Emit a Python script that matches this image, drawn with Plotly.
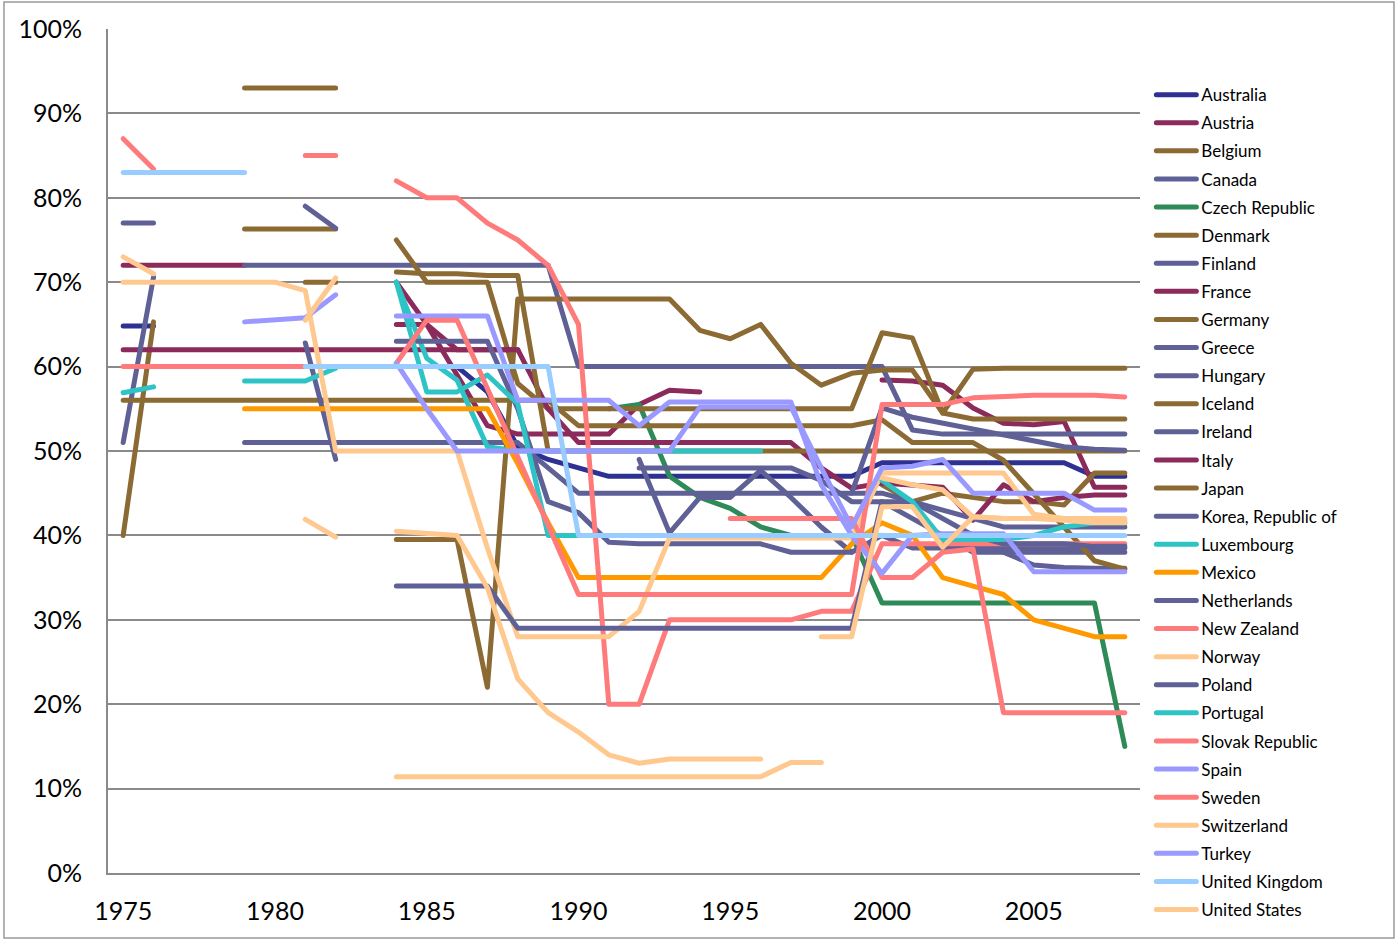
import plotly.graph_objects as go

N = None
years = list(range(1975, 2009))

# values per country, 1975..2008 (34 values, None = no data)
australia = [64.8, 64.8, N, N, N, N, N, N, N, 60, 60, 60, 57, 50.5, 49, 48, 47, 47, 47, 47, 47, 47, 47, 47, 47, 48.6, 48.6, 48.6, 48.6, 48.6, 48.6, 48.6, 47, 47]
austria = [72, 72, 72, 72, 72, N, N, N, N, 70, 65, 59, 53, 52, 52, 52, 52, 55.5, 57.2, 57, N, N, N, N, N, 58.4, 58.3, 57.8, 55.1, 53.3, 53.1, 53.5, 45.7, 45.7]
belgium = [40, 65.3, N, N, 93, 93, 93, 93, N, N, N, N, N, N, N, N, N, N, N, N, N, N, N, N, N, 46, 44, 45, 44.5, 44, 44, 43.6, 47.4, 47.4]
canada = [N, N, N, N, 72, 72, 72, 72, 72, 72, 72, 72, 72, 72, 72, 60, 60, 60, 60, 60, 60, 60, 60, 60, 60, 60, 52.5, 52, 52, 52, 52, 52, 52, 52]
czech = [N, N, N, N, N, N, N, N, N, N, N, N, N, N, N, N, 55, 55.5, 47, 44.5, 43.2, 41, 40, 40, 40, 32, 32, 32, 32, 32, 32, 32, 32, 15]
denmark = [N, N, N, N, 76.3, 76.3, 76.3, 76.3, N, 75, 70, 70, 70, 58, 55, 55, 55, 55, 55, 55, 55, 55, 55, 55, 55, 64, 63.4, 54.5, 53.8, 53.8, 53.8, 53.8, 53.8, 53.8]
finland = [77, 77, N, N, N, N, 79, 76.4, N, N, N, N, N, N, N, N, N, 49, 40.3, 44.5, 44.5, 47.7, 44.5, 41, 38, 40, 40, 40, 38, 38, 38, 38, 38, 38]
france = [62, 62, 62, 62, 62, 62, 62, 62, 62, 62, 62, 62, 62, 62, 55, 51, 51, 51, 51, 51, 51, 51, 51, 48, 45.6, 46.2, 46, 45.7, 41.8, 46, 44, 44.5, 44.8, 44.8]
germany = [N, N, N, N, N, N, N, N, N, 39.5, 39.5, 39.5, 22, 68, 68, 68, 68, 68, 68, 64.3, 63.3, 65, 60.4, 57.8, 59.2, 59.6, 59.6, 54.5, 59.7, 59.8, 59.8, 59.8, 59.8, 59.8]
greece = [51, 70.6, N, N, N, N, N, N, N, N, N, N, N, N, N, N, N, N, N, N, N, N, N, N, N, 40, 38.5, 38.5, 38.5, 38.5, 38.5, 38.5, 38.5, 38.5]
hungary = [N, N, N, N, N, N, N, N, N, N, N, N, N, N, N, N, N, 48, 48, 48, 48, 48, 48, 46.5, 44, 44, 44, 43, 42, 41, 41, 41, 41, 41]
iceland = [N, N, N, N, N, N, 70, 70, N, 71.2, 71, 71, 70.8, 70.8, 50, 50, 50, 50, 50, 50, 50, 50, 50, 50, 50, 50, 50, 50, 50, 50, 50, 50, 50, 50]
ireland = [N, N, N, N, 51, 51, 51, 51, 51, 51, 51, 51, 51, 51, 48, 45, 45, 45, 45, 45, 45, 45, 45, 45, 45, 45, 44, 42, 40, 38, 36.5, 36.2, 36.1, 36.1]
italy = [N, N, N, N, N, N, N, N, N, 65, 65, 62, 62, 62, N, N, N, N, N, N, N, N, N, N, N, N, N, N, N, N, N, N, N, N]
japan = [56, 56, 56, 56, 56, 56, 56, 56, 56, 56, 56, 56, 56, 56, 56, 53, 53, 53, 53, 53, 53, 53, 53, 53, 53, 53.7, 51, 51, 51, 48.9, 44.9, 41, 37, 36]
korea = [N, N, N, N, N, N, 62.8, 49, N, N, N, N, N, N, N, N, N, N, N, N, N, N, N, N, 45, 55.1, 54, 53.3, 52.7, 51.9, 51.3, 50.5, 50.2, 50.1]
luxembourg = [56.9, 57.6, N, N, 58.3, 58.3, 58.3, 59.8, N, 70, 61, 58.4, 50.5, 50, 50, 50, 50, 50, 50, 50, 50, 50, N, N, N, N, N, N, N, N, N, N, N, N]
mexico = [N, N, N, N, 55, 55, 55, 55, 55, 55, 55, 55, 55, 48.5, 41.5, 35, 35, 35, 35, 35, 35, 35, 35, 35, 39, 41.5, 40, 35, 34, 33, 30, 29, 28, 28]
netherlands = [N, N, N, N, N, N, N, N, N, 63, 63, 63, 63, 55, 44, 42.7, 39.2, 39, 39, 39, 39, 39, 38, 38, 38, N, N, N, N, N, N, N, N, N]
new_zealand = [87, 83.4, N, N, N, N, 85, 85, N, 82, 80, 80, 77, 75, 72, 65, 20, 20, 30, 30, 30, 30, 30, 31, 31, 39, 39, 39, 39, 39, 39, 39, 39, 39]
norway = [70, 70, 70, 70, 70, 70, 69, 50, 50, 50, 50, 50, 38.5, 28, 28, 28, 28, 31, 39.7, 39.7, 39.7, 39.7, 39.7, 39.7, 39.7, 47.4, 47.4, 47.4, 47.4, 47.4, 42.5, 42, 41.8, 41.8]
poland = [N, N, N, N, N, N, N, N, N, 34, 34, 34, 34, 29, 29, 29, 29, 29, 29, 29, 29, 29, 29, 29, 29, 44, 42, 40, 40, 39, 39, 39, 38.7, 38.7]
portugal = [N, N, N, N, N, N, N, N, N, 70, 57, 57, 59, 55.6, 40, 40, 40, N, N, N, N, N, N, N, N, 46.5, 44, 39.5, 39.5, 39.5, 40, 41, 41.5, 41.5]
slovak = [N, N, N, N, N, N, N, N, N, N, N, N, N, N, N, N, N, N, N, N, 42, 42, 42, 42, 42, 35, 35, 38, 38.4, 19, 19, 19, 19, 19]
spain = [N, N, N, N, 65.3, 65.5, 65.8, 68.5, N, 66, 66, 66, 66, 56, 56, 56, 56, 53, 55.8, 55.8, 55.8, 55.8, 55.8, 46, 40, 35.5, 40, 40.2, 40.2, 40.2, 35.7, 35.7, 35.7, 35.7]
sweden = [60, 60, 60, 60, 60, 60, 60, N, N, 60.4, 65.5, 65.5, 57.5, 49.5, 41.2, 33, 33, 33, 33, 33, 33, 33, 33, 33, 33, 55.5, 55.5, 55.5, 56.3, 56.5, 56.6, 56.6, 56.6, 56.4]
switzerland = [N, N, N, N, N, N, 65.5, 70.5, N, 11.4, 11.4, 11.4, 11.4, 11.4, 11.4, 11.4, 11.4, 11.4, 11.4, 11.4, 11.4, 11.4, 13.1, 13.1, N, 46.8, 46, 45.4, 42.2, 42, 42, 41.8, 41.5, 41.5]
turkey = [N, N, N, N, N, N, N, N, N, 60.4, 55, 50, 50, 50, 50, 50, 50, 50, 50, 55.2, 55.2, 55.2, 55.2, 48, 41, 48, 48.2, 49, 45, 45, 45, 45, 43, 43]
united_kingdom = [83, 83, 83, 83, 83, N, 60, 60, 60, 60, 60, 60, 60, 60, 60, 40, 40, 40, 40, 40, 40, 40, 40, 40, 40, 40, 40, 40, 40, 40, 40, 40, 40, 40]
united_states = [73, 71, N, N, N, N, 41.9, 39.8, N, 40.5, 40.2, 40, 33.8, 23, 19, 16.7, 14, 13, 13.5, 13.5, 13.5, 13.5, N, 28, 28, 43.4, 43.4, 38.6, 42.2, 42, 42, 42, 42, 42]

NAVY = "#2E3192"
MAROON = "#8C2A5B"
BROWN = "#8B6A33"
SLATE = "#5F6096"
GREEN = "#2E8B57"
TEAL = "#2EC4C6"
ORANGE = "#FF9900"
SALMON = "#FF7B7B"
PEACH = "#FFC88E"
LAVENDER = "#9999FF"
LIGHTBLUE = "#99CCFF"

series = [
    ("Australia", australia, NAVY),
    ("Austria", austria, MAROON),
    ("Belgium", belgium, BROWN),
    ("Canada", canada, SLATE),
    ("Czech Republic", czech, GREEN),
    ("Denmark", denmark, BROWN),
    ("Finland", finland, SLATE),
    ("France", france, MAROON),
    ("Germany", germany, BROWN),
    ("Greece", greece, SLATE),
    ("Hungary", hungary, SLATE),
    ("Iceland", iceland, BROWN),
    ("Ireland", ireland, SLATE),
    ("Italy", italy, MAROON),
    ("Japan", japan, BROWN),
    ("Korea, Republic of", korea, SLATE),
    ("Luxembourg", luxembourg, TEAL),
    ("Mexico", mexico, ORANGE),
    ("Netherlands", netherlands, SLATE),
    ("New Zealand", new_zealand, SALMON),
    ("Norway", norway, PEACH),
    ("Poland", poland, SLATE),
    ("Portugal", portugal, TEAL),
    ("Slovak Republic", slovak, SALMON),
    ("Spain", spain, LAVENDER),
    ("Sweden", sweden, SALMON),
    ("Switzerland", switzerland, PEACH),
    ("Turkey", turkey, LAVENDER),
    ("United Kingdom", united_kingdom, LIGHTBLUE),
    ("United States", united_states, PEACH),
]

fig = go.Figure()
for name, vals, color in series:
    fig.add_trace(go.Scatter(
        x=years, y=vals, mode="lines", name=name, legendgroup=name,
        line=dict(color=color, width=5), connectgaps=False,
    ))

GRID = "#8a8a8a"
fig.update_layout(
    width=1398, height=940,
    margin=dict(l=108, r=258, t=29, b=67, autoexpand=False),
    paper_bgcolor="white", plot_bgcolor="white",
    font=dict(family="Lato, Carlito, 'Open Sans', sans-serif", color="black"),
    showlegend=True,
    legend=dict(
        x=1.011, xanchor="left", y=0.943, yanchor="top",
        font=dict(size=17, color="black"),
        tracegroupgap=3, itemwidth=40, bgcolor="rgba(0,0,0,0)",
        traceorder="grouped", maxheight=930,
    ),
    xaxis=dict(
        range=[1974.5, 2008.5], tickmode="array",
        tickvals=[1975, 1980, 1985, 1990, 1995, 2000, 2005],
        ticktext=["1975", "1980", "1985", "1990", "1995", "2000", "2005"],
        showgrid=False, zeroline=False, showline=True, linecolor=GRID, linewidth=2,
        tickfont=dict(size=25, color="black"), ticks="", ticklabelstandoff=15,
    ),
    yaxis=dict(
        range=[0, 100], tickmode="array",
        tickvals=[0, 10, 20, 30, 40, 50, 60, 70, 80, 90, 100],
        ticktext=["0%", "10%", "20%", "30%", "40%", "50%", "60%", "70%", "80%", "90%", "100%"],
        showgrid=True, gridcolor=GRID, gridwidth=2, zeroline=False,
        showline=True, linecolor=GRID, linewidth=2,
        tickfont=dict(size=25, color="black"), ticks="", ticklabelstandoff=19,
    ),
    shapes=[dict(type="rect", xref="paper", yref="paper",
                 x0=-0.1008, x1=1.2461, y0=-0.077, y1=1.032,
                 line=dict(color="#9a9a9a", width=1.5), layer="below")],
)

post = (
    "document.body.style.margin='0px';"
    "document.body.style.overflow='hidden';"
    "document.querySelectorAll('.scatterlayer path.js-line, .legendlines path').forEach(function(p){"
    "p.style.strokeLinecap='round';p.style.strokeLinejoin='round';});"
)
fig.write_html("out.html", config={"displayModeBar": False}, post_script=post)
